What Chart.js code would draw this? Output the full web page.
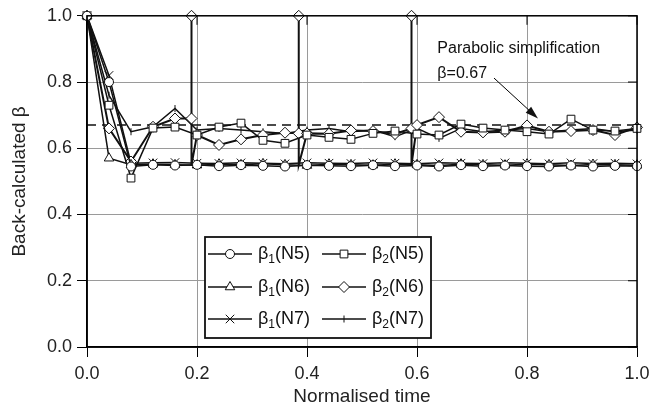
<!DOCTYPE html>
<html>
<head>
<meta charset="utf-8">
<script src="https://cdn.jsdelivr.net/npm/chart.js@4.4.1/dist/chart.umd.min.js"></script>
<style>
  html, body { margin: 0; padding: 0; background: #fff; }
  #wrap { width: 662px; height: 412px; }
</style>
</head>
<body>
<div id="wrap"><canvas id="betaChart" width="662" height="412"></canvas></div>
<script>
// normalised time of the records
const times = [0.00, 0.04, 0.08, 0.12, 0.16, 0.20, 0.24, 0.28, 0.32, 0.36, 0.40, 0.44, 0.48,
               0.52, 0.56, 0.60, 0.64, 0.68, 0.72, 0.76, 0.80, 0.84, 0.88, 0.92, 0.96, 1.00];

const beta1N5 = [1.00, 0.80, 0.545, 0.550, 0.548, 0.550, 0.546, 0.549, 0.547, 0.545, 0.549, 0.547, 0.546,
                 0.549, 0.546, 0.548, 0.545, 0.549, 0.546, 0.548, 0.546, 0.545, 0.548, 0.545, 0.547, 0.546];
const beta1N6 = [1.00, 0.57, 0.550, 0.552, 0.550, 0.549, 0.552, 0.550, 0.553, 0.550, 0.548, 0.552, 0.550,
                 0.549, 0.552, 0.550, 0.548, 0.552, 0.550, 0.549, 0.552, 0.550, 0.548, 0.551, 0.550, 0.549];
const beta1N7 = [1.00, 0.82, 0.555, 0.556, 0.557, 0.555, 0.554, 0.556, 0.555, 0.553, 0.556, 0.555, 0.554,
                 0.556, 0.555, 0.553, 0.556, 0.555, 0.554, 0.556, 0.555, 0.553, 0.556, 0.554, 0.555, 0.553];
const beta2N5 = [1.00, 0.73, 0.51, 0.661, 0.664, 0.640, 0.664, 0.676, 0.624, 0.615, 0.640, 0.633, 0.627,
                 0.645, 0.652, 0.643, 0.640, 0.673, 0.661, 0.655, 0.650, 0.643, 0.688, 0.655, 0.652, 0.660];
const beta2N7 = [1.00, 0.76, 0.65, 0.665, 0.72, 0.655, 0.660, 0.655, 0.650, 0.645, 0.655, 0.660, 0.650,
                 0.655, 0.635, 0.660, 0.630, 0.660, 0.650, 0.655, 0.660, 0.650, 0.655, 0.660, 0.650, 0.655];

// beta2(N6) has its own times: it jumps to 1.0 three times
const beta2N6Times = [0.00, 0.04, 0.08, 0.12, 0.16, 0.19, 0.19, 0.19, 0.20, 0.24, 0.28, 0.32, 0.36,
                      0.385, 0.385, 0.385, 0.40, 0.44, 0.48, 0.52, 0.56, 0.59, 0.59, 0.59, 0.60,
                      0.64, 0.68, 0.72, 0.76, 0.80, 0.84, 0.88, 0.92, 0.96, 1.00];
const beta2N6 = [1.00, 0.66, 0.56, 0.665, 0.69, 0.69, 1.00, 0.55, 0.640, 0.610, 0.627, 0.640, 0.647,
                 0.645, 1.00, 0.55, 0.645, 0.644, 0.654, 0.652, 0.643, 0.660, 1.00, 0.55, 0.670,
                 0.694, 0.650, 0.648, 0.650, 0.669, 0.650, 0.652, 0.655, 0.640, 0.663];
const spikeBase = 0.55;

const parabolicBeta = 0.67;
const xTicks = [0, 0.2, 0.4, 0.6, 0.8, 1.0];
const yTicks = [0, 0.2, 0.4, 0.6, 0.8, 1.0];

function pts(xs, ys) {
  return ys.map(function (v, i) { return { x: xs[i], y: v }; });
}

const fontName = "'Liberation Sans', Arial, sans-serif";

const series = [
  { name: '1', tag: '(N5)', data: pts(times, beta1N5), pointStyle: 'circle', radius: 4.5, rotation: 0 },
  { name: '2', tag: '(N5)', data: pts(times, beta2N5), pointStyle: 'rect', radius: 5.5, rotation: 0 },
  { name: '1', tag: '(N6)', data: pts(times, beta1N6), pointStyle: 'triangle', radius: 5.5, rotation: 0 },
  { name: '2', tag: '(N6)', data: pts(beta2N6Times, beta2N6), pointStyle: 'rectRot', radius: 5.5, rotation: 0 },
  { name: '1', tag: '(N7)', data: pts(times, beta1N7), pointStyle: 'crossRot', radius: 6, rotation: 0 },
  { name: '2', tag: '(N7)', data: pts(times, beta2N7), pointStyle: 'line', radius: 3.5, rotation: 90 }
];

const datasets = series.map(function (s) {
  return {
    label: 'β' + s.name + s.tag,
    data: s.data,
    showLine: true,
    clip: 10,
    borderColor: '#111',
    borderWidth: s.pointStyle === 'rectRot' ? 2 : 1.5,
    backgroundColor: '#fff',
    pointStyle: s.pointStyle,
    pointRotation: s.rotation,
    pointRadius: s.pointStyle === 'rectRot'
      ? function (ctx) { return ctx.raw && ctx.raw.y === spikeBase ? 0 : s.radius; }
      : s.radius,
    pointBorderColor: '#111',
    pointBackgroundColor: '#fff',
    pointBorderWidth: 1,
    tension: 0
  };
});

datasets.push({
  label: 'Parabolic',
  data: [{ x: 0, y: parabolicBeta }, { x: 1, y: parabolicBeta }],
  showLine: true,
  borderColor: '#111',
  borderWidth: 1.5,
  borderDash: [9, 6],
  pointRadius: 0
});

// frame, inward ticks on top/right, annotation and legend box
const extras = {
  id: 'extras',
  afterDraw: function (chart) {
    const ctx = chart.ctx;
    const a = chart.chartArea;
    const xs = chart.scales.x, ys = chart.scales.y;
    ctx.save();
    ctx.strokeStyle = '#000';
    ctx.lineWidth = 1.5;
    ctx.strokeRect(a.left, a.top, a.right - a.left, a.bottom - a.top);
    ctx.lineWidth = 1;
    ctx.beginPath();
    xTicks.forEach(function (t) {
      const px = xs.getPixelForValue(t);
      ctx.moveTo(px, a.top); ctx.lineTo(px, a.top + 9);
    });
    yTicks.forEach(function (t) {
      const py = ys.getPixelForValue(t);
      ctx.moveTo(a.right, py); ctx.lineTo(a.right - 9, py);
    });
    ctx.stroke();

    // annotation
    ctx.fillStyle = '#111';
    ctx.font = '16px ' + fontName;
    ctx.textBaseline = 'middle';
    ctx.textAlign = 'left';
    const tx = xs.getPixelForValue(0.637);
    ctx.fillText('Parabolic simplification', tx, ys.getPixelForValue(0.90));
    ctx.fillText('β=0.67', tx, ys.getPixelForValue(0.825));
    const x0 = xs.getPixelForValue(0.74), y0 = ys.getPixelForValue(0.812);
    const x1 = xs.getPixelForValue(0.82), y1 = ys.getPixelForValue(0.69);
    const ang = Math.atan2(y1 - y0, x1 - x0);
    ctx.beginPath();
    ctx.moveTo(x0, y0);
    ctx.lineTo(x1 - 10 * Math.cos(ang), y1 - 10 * Math.sin(ang));
    ctx.stroke();
    ctx.beginPath();
    ctx.moveTo(x1, y1);
    ctx.lineTo(x1 - 13 * Math.cos(ang) + 4 * Math.sin(ang), y1 - 13 * Math.sin(ang) - 4 * Math.cos(ang));
    ctx.lineTo(x1 - 13 * Math.cos(ang) - 4 * Math.sin(ang), y1 - 13 * Math.sin(ang) + 4 * Math.cos(ang));
    ctx.closePath();
    ctx.fill();

    // legend
    const box = { left: 205, top: 237, right: 431, bottom: 338 };
    ctx.fillStyle = '#fff';
    ctx.fillRect(box.left, box.top, box.right - box.left, box.bottom - box.top);
    ctx.lineWidth = 1.8;
    ctx.strokeStyle = '#111';
    ctx.strokeRect(box.left, box.top, box.right - box.left, box.bottom - box.top);
    const colX = [208, 322];
    const rowY = [254, 287, 319];
    series.forEach(function (s, i) {
      const cx = colX[i % 2], cy = rowY[Math.floor(i / 2)];
      ctx.lineWidth = 1.3;
      ctx.strokeStyle = '#111';
      ctx.beginPath();
      ctx.moveTo(cx, cy); ctx.lineTo(cx + 44, cy);
      ctx.stroke();
      ctx.fillStyle = '#fff';
      ctx.lineWidth = 1;
      Chart.helpers.drawPoint(ctx, { pointStyle: s.pointStyle, radius: s.radius, rotation: s.rotation, borderWidth: 1 }, cx + 22, cy);
      ctx.fillStyle = '#111';
      ctx.textBaseline = 'middle';
      let px = cx + 50;
      ctx.font = '18px ' + fontName;
      ctx.fillText('β', px, cy);
      px += ctx.measureText('β').width;
      ctx.font = '12px ' + fontName;
      ctx.fillText(s.name, px, cy + 6);
      px += ctx.measureText(s.name).width;
      ctx.font = '18px ' + fontName;
      ctx.fillText(s.tag, px, cy);
    });
    ctx.restore();
  }
};

new Chart(document.getElementById('betaChart'), {
  type: 'scatter',
  data: { datasets: datasets },
  options: {
    responsive: false,
    animation: false,
    devicePixelRatio: 1,
    layout: { padding: { top: 15, right: 25, left: 0, bottom: 0 } },
    plugins: {
      legend: { display: false },
      tooltip: { enabled: false }
    },
    scales: {
      x: {
        type: 'linear',
        min: 0, max: 1,
        afterFit: function (s) { s.height = 65; },
        ticks: {
          stepSize: 0.2,
          color: '#222',
          font: { family: fontName, size: 18 },
          padding: 6,
          callback: function (v) { return v.toFixed(1); }
        },
        grid: { color: '#9a9a9a', lineWidth: 1, tickLength: 10, tickColor: '#000' },
        border: { color: '#000', width: 1.5 },
        title: { display: true, text: 'Normalised time', color: '#222', font: { family: fontName, size: 19 }, padding: { top: 5 } }
      },
      y: {
        min: 0, max: 1,
        afterFit: function (s) { s.width = 87; },
        ticks: {
          stepSize: 0.2,
          color: '#222',
          font: { family: fontName, size: 18 },
          padding: 5,
          callback: function (v) { return v.toFixed(1); }
        },
        grid: { color: '#9a9a9a', lineWidth: 1, tickLength: 10, tickColor: '#000' },
        border: { color: '#000', width: 1.5 },
        title: { display: true, text: 'Back-calculated β', color: '#222', font: { family: fontName, size: 19 }, padding: { top: 8, bottom: 0 } }
      }
    }
  },
  plugins: [extras]
});
</script>
</body>
</html>
